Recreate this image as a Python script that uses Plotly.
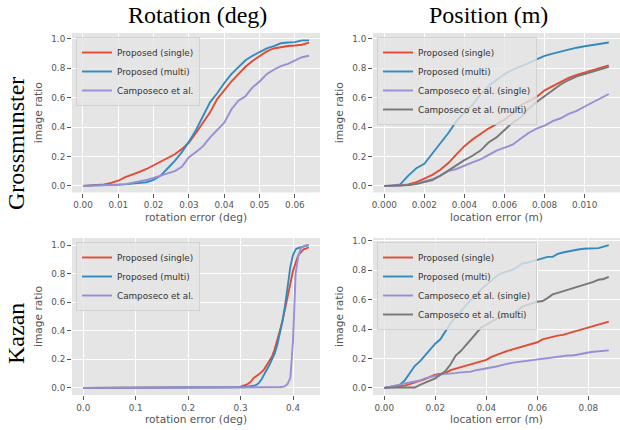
import plotly.graph_objects as go

# ---------------- data ----------------
# Grossmunster, rotation error (deg)
rot_g_x = [0.000, 0.002, 0.004, 0.006, 0.008, 0.010, 0.012, 0.014, 0.016, 0.018,
           0.020, 0.022, 0.024, 0.026, 0.028, 0.030, 0.032, 0.034, 0.036, 0.038,
           0.040, 0.042, 0.044, 0.046, 0.048, 0.050, 0.052, 0.054, 0.056, 0.058,
           0.060, 0.062, 0.064]
rot_g_single = [0.0, 0.002, 0.005, 0.01, 0.02, 0.035, 0.06, 0.075, 0.095, 0.115,
                0.14, 0.17, 0.195, 0.215, 0.25, 0.295, 0.36, 0.43, 0.50, 0.59,
                0.65, 0.71, 0.76, 0.81, 0.85, 0.885, 0.915, 0.935, 0.945, 0.952,
                0.955, 0.96, 0.975]
rot_g_multi = [0.0, 0.001, 0.002, 0.003, 0.004, 0.006, 0.01, 0.015, 0.02, 0.025,
               0.04, 0.07, 0.12, 0.17, 0.23, 0.30, 0.38, 0.47, 0.57, 0.63,
               0.70, 0.76, 0.81, 0.855, 0.885, 0.91, 0.935, 0.95, 0.97, 0.975,
               0.978, 0.99, 0.99]
rot_g_campo = [0.0, 0.001, 0.002, 0.003, 0.005, 0.008, 0.012, 0.02, 0.03, 0.04,
               0.055, 0.07, 0.085, 0.10, 0.13, 0.195, 0.23, 0.27, 0.33, 0.38,
               0.43, 0.52, 0.58, 0.61, 0.67, 0.71, 0.76, 0.79, 0.815, 0.83,
               0.85, 0.875, 0.885]

# Grossmunster, location error (m)
pos_g_x = [0.0, 0.0004, 0.0008, 0.0012, 0.0016, 0.0020, 0.0024, 0.0028, 0.0032, 0.0036,
           0.0040, 0.0044, 0.0048, 0.0052, 0.0056, 0.0060, 0.0064, 0.0068, 0.0072, 0.0076,
           0.0080, 0.0084, 0.0088, 0.0092, 0.0096, 0.0100, 0.0104, 0.0108, 0.0112]
pos_g_single = [0.0, 0.001, 0.003, 0.01, 0.025, 0.05, 0.075, 0.11, 0.155, 0.215,
                0.27, 0.315, 0.355, 0.39, 0.42, 0.45, 0.49, 0.55, 0.575, 0.605,
                0.65, 0.68, 0.71, 0.735, 0.755, 0.77, 0.79, 0.80, 0.82]
pos_g_multi = [0.0, 0.002, 0.01, 0.07, 0.12, 0.15, 0.22, 0.29, 0.36, 0.44,
               0.50, 0.55, 0.62, 0.68, 0.72, 0.76, 0.79, 0.81, 0.835, 0.86,
               0.885, 0.90, 0.915, 0.93, 0.94, 0.95, 0.96, 0.968, 0.975]
pos_g_campo_single = [0.0, 0.001, 0.002, 0.005, 0.015, 0.03, 0.045, 0.07, 0.10, 0.115,
                      0.14, 0.16, 0.18, 0.21, 0.24, 0.26, 0.28, 0.32, 0.36, 0.39,
                      0.41, 0.44, 0.46, 0.49, 0.51, 0.54, 0.57, 0.60, 0.625]
pos_g_campo_multi = [0.0, 0.001, 0.002, 0.005, 0.013, 0.025, 0.04, 0.07, 0.105, 0.145,
                     0.175, 0.205, 0.24, 0.295, 0.33, 0.38, 0.43, 0.465, 0.525, 0.57,
                     0.61, 0.65, 0.69, 0.72, 0.745, 0.76, 0.775, 0.795, 0.81]

# Kazan, rotation error (deg)
rot_k_x = [0.0, 0.28, 0.285, 0.29, 0.295, 0.30, 0.305, 0.31, 0.315, 0.32,
           0.325, 0.33, 0.335, 0.34, 0.345, 0.35, 0.355, 0.36, 0.365, 0.37,
           0.375, 0.38, 0.385, 0.39, 0.395, 0.40, 0.405, 0.41, 0.415, 0.42,
           0.425, 0.43]
rot_k_single = [0.0, 0.0, 0.0, 0.002, 0.005, 0.008, 0.012, 0.02, 0.03, 0.045,
                0.07, 0.08, 0.095, 0.11, 0.13, 0.16, 0.19, 0.22, 0.27, 0.33,
                0.40, 0.47, 0.55, 0.64, 0.73, 0.82, 0.88, 0.93, 0.95, 0.97,
                0.975, 0.985]
rot_k_multi = [0.0, 0.0, 0.0, 0.0, 0.0, 0.002, 0.004, 0.006, 0.008, 0.01,
               0.015, 0.02, 0.035, 0.06, 0.09, 0.12, 0.16, 0.20, 0.24, 0.30,
               0.38, 0.47, 0.58, 0.72, 0.85, 0.93, 0.97, 0.98, 0.985, 0.99,
               0.995, 1.0]
rot_k_campo = [0.0, 0.0, 0.0, 0.0, 0.0, 0.0, 0.0, 0.0, 0.0, 0.0,
               0.0, 0.0, 0.0, 0.0, 0.0, 0.0, 0.0, 0.0, 0.002, 0.003,
               0.005, 0.008, 0.012, 0.03, 0.07, 0.33, 0.80, 0.92, 0.98, 0.99,
               1.0, 1.0]

# Kazan, location error (m)
pos_k_x = [0.000, 0.002, 0.004, 0.006, 0.008, 0.010, 0.012, 0.014, 0.016, 0.018,
           0.020, 0.022, 0.024, 0.026, 0.028, 0.030, 0.032, 0.034, 0.036, 0.038,
           0.040, 0.042, 0.044, 0.046, 0.048, 0.050, 0.052, 0.054, 0.056, 0.058,
           0.060, 0.062, 0.064, 0.066, 0.068, 0.070, 0.072, 0.074, 0.076, 0.078,
           0.080, 0.082, 0.084, 0.086, 0.088]
pos_k_single = [0.0, 0.003, 0.006, 0.01, 0.015, 0.025, 0.035, 0.045, 0.06, 0.075,
                0.09, 0.095, 0.10, 0.12, 0.13, 0.14, 0.155, 0.165, 0.175, 0.18,
                0.19, 0.21, 0.225, 0.235, 0.25, 0.26, 0.27, 0.28, 0.29, 0.30,
                0.31, 0.33, 0.34, 0.345, 0.355, 0.36, 0.37, 0.38, 0.395, 0.405,
                0.415, 0.425, 0.435, 0.44, 0.45]
pos_k_multi = [0.0, 0.005, 0.01, 0.02, 0.05, 0.10, 0.15, 0.18, 0.22, 0.26,
               0.30, 0.33, 0.39, 0.44, 0.48, 0.52, 0.56, 0.60, 0.63, 0.67,
               0.70, 0.73, 0.76, 0.78, 0.79, 0.80, 0.82, 0.845, 0.85, 0.86,
               0.87, 0.88, 0.89, 0.89, 0.91, 0.92, 0.925, 0.93, 0.94, 0.945,
               0.948, 0.948, 0.95, 0.96, 0.97]
pos_k_campo_single = [0.0, 0.005, 0.01, 0.02, 0.03, 0.035, 0.04, 0.05, 0.065, 0.075,
                      0.085, 0.09, 0.095, 0.095, 0.10, 0.105, 0.105, 0.11, 0.12, 0.125,
                      0.13, 0.14, 0.145, 0.155, 0.165, 0.17, 0.175, 0.18, 0.18, 0.185,
                      0.19, 0.195, 0.20, 0.205, 0.21, 0.215, 0.22, 0.22, 0.225, 0.235,
                      0.24, 0.245, 0.25, 0.25, 0.255]
pos_k_campo_multi = [0.0, 0.002, 0.002, 0.002, 0.002, 0.002, 0.002, 0.02, 0.035, 0.05,
                     0.065, 0.09, 0.115, 0.16, 0.22, 0.25, 0.29, 0.33, 0.37, 0.41,
                     0.43, 0.45, 0.47, 0.48, 0.485, 0.50, 0.52, 0.55, 0.565, 0.575,
                     0.585, 0.59, 0.61, 0.635, 0.645, 0.655, 0.665, 0.675, 0.69, 0.70,
                     0.71, 0.72, 0.735, 0.74, 0.755]

# tick labels / ranges
rot_g_ticks = [0.00, 0.01, 0.02, 0.03, 0.04, 0.05, 0.06]
pos_g_ticks = [0.000, 0.002, 0.004, 0.006, 0.008, 0.010]
rot_k_ticks = [0.0, 0.1, 0.2, 0.3, 0.4]
pos_k_ticks = [0.00, 0.02, 0.04, 0.06, 0.08]
y_ticks = [0.0, 0.2, 0.4, 0.6, 0.8, 1.0]

# ---------------- style ----------------
RED, BLUE, PURPLE, GRAY = "#E24A33", "#348ABD", "#988ED5", "#777777"
TXT = "#555555"
SANS = "DejaVu Sans"
SERIF = "Liberation Serif"
W, H = 620, 430

def px_x(p):
    return p / W

def px_y(p):
    return 1 - p / H

panels = [
    dict(n="", leg="legend", x=rot_g_x, xt=rot_g_ticks, fmt=".2f",
         xr=[-0.0031, 0.0671], yr=[-0.045, 1.04], xlab="rotation error (deg)",
         dom_x=[72, 320], dom_y=[33, 192.5],
         series=[("Proposed (single)", rot_g_single, RED),
                 ("Proposed (multi)", rot_g_multi, BLUE),
                 ("Camposeco et al.", rot_g_campo, PURPLE)]),
    dict(n="2", leg="legend2", x=pos_g_x, xt=pos_g_ticks, fmt=".3f",
         xr=[-0.00056, 0.01176], yr=[-0.045, 1.04], xlab="location error (m)",
         dom_x=[373, 620], dom_y=[33, 192.5],
         series=[("Proposed (single)", pos_g_single, RED),
                 ("Proposed (multi)", pos_g_multi, BLUE),
                 ("Camposeco et al. (single)", pos_g_campo_single, PURPLE),
                 ("Camposeco et al. (multi)", pos_g_campo_multi, GRAY)]),
    dict(n="3", leg="legend3", x=rot_k_x, xt=rot_k_ticks, fmt=".1f",
         xr=[-0.0215, 0.4515], yr=[-0.05, 1.05], xlab="rotation error (deg)",
         dom_x=[72, 320], dom_y=[238, 395],
         series=[("Proposed (single)", rot_k_single, RED),
                 ("Proposed (multi)", rot_k_multi, BLUE),
                 ("Camposeco et al.", rot_k_campo, PURPLE)]),
    dict(n="4", leg="legend4", x=pos_k_x, xt=pos_k_ticks, fmt=".2f",
         xr=[-0.0044, 0.0924], yr=[-0.0485, 1.0185], xlab="location error (m)",
         dom_x=[373, 620], dom_y=[238, 395],
         series=[("Proposed (single)", pos_k_single, RED),
                 ("Proposed (multi)", pos_k_multi, BLUE),
                 ("Camposeco et al. (single)", pos_k_campo_single, PURPLE),
                 ("Camposeco et al. (multi)", pos_k_campo_multi, GRAY)]),
]

fig = go.Figure()
layout = dict(
    width=W, height=H,
    margin=dict(l=0, r=0, t=0, b=0),
    paper_bgcolor="white",
    plot_bgcolor="#E5E5E5",
    font=dict(family=SANS, size=9, color=TXT),
    annotations=[],
)

axis_common = dict(
    showgrid=True, gridcolor="white", gridwidth=1,
    zeroline=False, showline=False,
    ticks="outside", ticklen=4, tickwidth=1, tickcolor=TXT,
    tickfont=dict(family=SANS, size=8.8, color=TXT),
    automargin=False,
)

for p in panels:
    n = p["n"]
    xa, ya = "x" + n, "y" + n
    for name, vals, col in p["series"]:
        fig.add_trace(go.Scatter(
            x=p["x"], y=vals, mode="lines", name=name,
            line=dict(color=col, width=1.9),
            xaxis=xa, yaxis=ya, legend=p["leg"],
        ))
    layout["xaxis" + n] = dict(
        axis_common,
        domain=[px_x(p["dom_x"][0]), px_x(p["dom_x"][1])],
        anchor=ya, range=p["xr"],
        tickmode="array", tickvals=p["xt"],
        ticktext=[format(v, p["fmt"]) for v in p["xt"]],
        title=dict(text=p["xlab"], font=dict(family=SANS, size=10.6, color=TXT),
                   standoff=4),
    )
    layout["yaxis" + n] = dict(
        axis_common,
        domain=[px_y(p["dom_y"][1]), px_y(p["dom_y"][0])],
        anchor=xa, range=p["yr"],
        tickmode="array", tickvals=y_ticks,
        ticktext=[format(v, ".1f") for v in y_ticks],
        title=dict(text="image ratio", font=dict(family=SANS, size=10.6, color=TXT),
                   standoff=6),
    )
    layout[p["leg"]] = dict(
        x=px_x(p["dom_x"][0] + 4), y=px_y(p["dom_y"][0] + 4),
        xanchor="left", yanchor="top",
        bgcolor="rgba(229,229,229,0.8)",
        bordercolor="rgba(204,204,204,0.8)", borderwidth=1,
        font=dict(family=SANS, size=8.8, color="#333333"),
        tracegroupgap=0,
    )

title_font = dict(family=SERIF, size=24, color="black")
layout["annotations"] = [
    dict(text="Rotation (deg)", x=px_x(197), y=px_y(15), xref="paper", yref="paper",
         showarrow=False, font=title_font, xanchor="center", yanchor="middle"),
    dict(text="Position (m)", x=px_x(488), y=px_y(15), xref="paper", yref="paper",
         showarrow=False, font=title_font, xanchor="center", yanchor="middle"),
    dict(text="Grossmunster", x=px_x(16), y=px_y(144), xref="paper", yref="paper",
         showarrow=False, font=title_font, textangle=-90,
         xanchor="center", yanchor="middle"),
    dict(text="Kazan", x=px_x(16), y=px_y(334), xref="paper", yref="paper",
         showarrow=False, font=title_font, textangle=-90,
         xanchor="center", yanchor="middle"),
]

fig.update_layout(**layout)
fig.write_html(
    "out.html",
    config={"displayModeBar": False},
    post_script="document.body.style.margin='0px';document.body.style.padding='0px';",
)
